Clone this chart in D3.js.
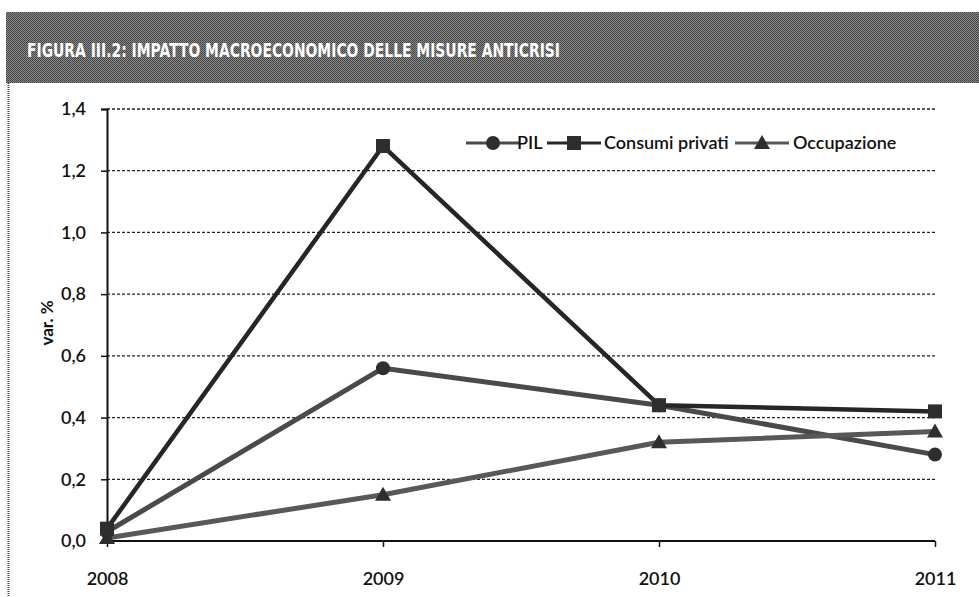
<!DOCTYPE html>
<html><head><meta charset="utf-8">
<script src="https://cdn.jsdelivr.net/npm/d3@7/dist/d3.min.js"></script>
<style>
html,body{margin:0;padding:0;background:#fff;}
svg{display:block;}
</style></head>
<body>
<svg id="chart" width="979" height="597"></svg>
<script>
const titleText = "FIGURA III.2: IMPATTO MACROECONOMICO DELLE MISURE ANTICRISI";
const yLabel = "var. %";
const categories = ["2008", "2009", "2010", "2011"];
const seriesNames = ["PIL", "Consumi privati", "Occupazione"];
const pil = [0.03, 0.56, 0.44, 0.28];
const consumi = [0.04, 1.28, 0.44, 0.42];
const occupazione = [0.01, 0.15, 0.32, 0.355];
const yTicks = [0, 0.2, 0.4, 0.6, 0.8, 1.0, 1.2, 1.4];

const series = [
  {name: seriesNames[0], values: pil, color: "#4a4a4a", width: 5, marker: "circle"},
  {name: seriesNames[1], values: consumi, color: "#262626", width: 4.5, marker: "square"},
  {name: seriesNames[2], values: occupazione, color: "#585858", width: 5, marker: "triangle"}
];

const svg = d3.select("#chart");
const font = "Lato, 'Open Sans', sans-serif";

// halftone pattern for title bar
const defs = svg.append("defs");
const pat = defs.append("pattern").attr("id","ht").attr("width",2).attr("height",2).attr("patternUnits","userSpaceOnUse");
pat.append("rect").attr("width",2).attr("height",2).attr("fill","#8a8a8a");
pat.append("rect").attr("width",1).attr("height",1).attr("fill","#3e3e3e");
pat.append("rect").attr("x",1).attr("y",1).attr("width",1).attr("height",1).attr("fill","#4a4a4a");

svg.append("rect").attr("x",6).attr("y",12).attr("width",973).attr("height",71).attr("fill","url(#ht)");
svg.append("text").attr("x",27).attr("y",57).text(titleText)
  .attr("fill","#fff").attr("font-family","'DejaVu Sans', sans-serif").attr("font-weight","bold")
  .attr("font-size",20).attr("textLength",533).attr("lengthAdjust","spacingAndGlyphs");

// frame left border
svg.append("line").attr("x1",8.5).attr("x2",8.5).attr("y1",83).attr("y2",597)
  .attr("stroke","#444").attr("stroke-width",2).attr("stroke-dasharray","1,1");

const x = d3.scalePoint().domain(categories).range([107, 935]);
const y = d3.scaleLinear().domain([0, 1.4]).range([541, 109]);
const fmt = v => d3.format(".1f")(v).replace(".", ",");

// gridlines
svg.append("g").selectAll("line").data(yTicks.filter(d => d > 0)).join("line")
  .attr("x1", 107).attr("x2", 935)
  .attr("y1", d => y(d)).attr("y2", d => y(d))
  .attr("stroke", "#222").attr("stroke-width", 1.3).attr("stroke-dasharray", "3,2");

// y axis
const yAxis = svg.append("g").attr("transform","translate(107,0)")
  .call(d3.axisLeft(y).tickValues(yTicks).tickFormat(fmt).tickSize(6).tickPadding(15));
yAxis.select(".domain").attr("stroke","#111").attr("stroke-width",2);
yAxis.selectAll(".tick line").attr("stroke","#111").attr("stroke-width",1.5);
yAxis.selectAll(".tick text").attr("font-family",font).attr("font-size",18).attr("fill","#111").attr("font-weight","600");

// x axis
const xAxis = svg.append("g").attr("transform","translate(0,541)")
  .call(d3.axisBottom(x).tickSize(6).tickPadding(25));
xAxis.select(".domain").attr("stroke","#111").attr("stroke-width",2).attr("d","M107,0H935");
xAxis.selectAll(".tick line").attr("stroke","#111").attr("stroke-width",1.5);
xAxis.selectAll(".tick text").attr("font-family",font).attr("font-size",18).attr("fill","#111").attr("font-weight","600");

// y label
svg.append("text").attr("transform","translate(53,323) rotate(-90)").attr("text-anchor","middle")
  .attr("font-family",font).attr("font-weight","bold").attr("font-size",17).attr("fill","#111").text(yLabel);

function drawMarker(g, type, cx, cy, color) {
  if (type === "circle") g.append("circle").attr("cx",cx).attr("cy",cy).attr("r",7).attr("fill",color);
  else if (type === "square") g.append("rect").attr("x",cx-7).attr("y",cy-7).attr("width",14).attr("height",14).attr("fill",color);
  else g.append("path").attr("d",`M${cx},${cy-8}L${cx+8},${cy+6}L${cx-8},${cy+6}Z`).attr("fill",color);
}

const line = d3.line().x((d,i) => x(categories[i])).y(d => y(d));
const lg = svg.append("g");
series.forEach(s => {
  lg.append("path").attr("d", line(s.values)).attr("fill","none")
    .attr("stroke", s.color).attr("stroke-width", s.width).attr("stroke-linejoin","round");
});
series.forEach(s => {
  s.values.forEach((v,i) => drawMarker(lg, s.marker, x(categories[i]), y(v), "#2e2e2e"));
});

// legend
const legendItems = [
  {x0: 466, text: 517},
  {x0: 547, text: 604},
  {x0: 735, text: 793}
];
const leg = svg.append("g");
series.forEach((s,i) => {
  const it = legendItems[i];
  leg.append("line").attr("x1", it.x0).attr("x2", it.x0 + 54).attr("y1",143).attr("y2",143)
    .attr("stroke", s.color).attr("stroke-width", 3);
  drawMarker(leg, s.marker, it.x0 + 27, 143, "#2e2e2e");
  leg.append("text").attr("x", it.text).attr("y", 149).text(s.name)
    .attr("font-family", font).attr("font-size", 18).attr("fill","#111").attr("font-weight","600");
});
</script>
</body></html>
